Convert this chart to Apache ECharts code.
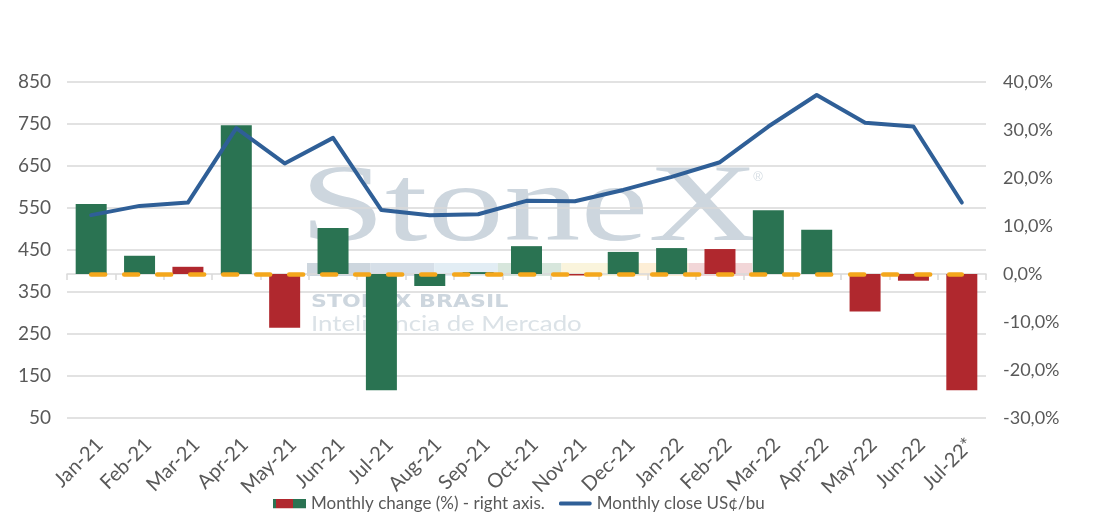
<!DOCTYPE html>
<html><head><meta charset="utf-8">
<script src="https://cdn.jsdelivr.net/npm/echarts@6/dist/echarts.min.js"></script>
<style>html,body{margin:0;padding:0;background:#fff}#c{width:1104px;height:523px}</style>
</head><body><div id="c"></div><script>
const categories = ['Jan-21','Feb-21','Mar-21','Apr-21','May-21','Jun-21','Jul-21','Aug-21','Sep-21','Oct-21','Nov-21','Dec-21','Jan-22','Feb-22','Mar-22','Apr-22','May-22','Jun-22','Jul-22*'];
const closeValues = [533,555,563,740,656,717,545,533,535,567,566,593,624,659,744,819,753,744,563];
const changeValues = [14.6,3.8,1.5,31.0,-11.2,9.6,-24.2,-2.5,0.4,5.8,-0.3,4.6,5.4,5.2,13.3,9.2,-7.8,-1.4,-24.2];
const changeColorKeys = ['g','g','r','g','r','g','g','g','g','g','r','g','g','r','g','g','r','r','r'];
const leftTicks = {min:50, max:850, interval:100};
const rightTicks = {min:-30, max:40, interval:10};

const GREEN = '#2A7352', RED = '#B0282E', BLUE = '#2F5F97', ORANGE = '#F4A71C';
const FONT = 'Lato';
const TXT = '#595959';

const barIcon = 'image://data:image/svg+xml;utf8,' + encodeURIComponent(
  '<svg xmlns="http://www.w3.org/2000/svg" width="33" height="10"><rect x="0" y="0" width="3" height="10" fill="'+GREEN+'"/><rect x="3" y="0" width="17" height="10" fill="'+RED+'"/><rect x="20" y="0" width="13" height="10" fill="'+GREEN+'"/></svg>');
const lineIcon = 'image://data:image/svg+xml;utf8,' + encodeURIComponent(
  '<svg xmlns="http://www.w3.org/2000/svg" width="36" height="10"><line x1="2" y1="5" x2="34" y2="5" stroke="'+BLUE+'" stroke-width="4" stroke-linecap="round"/></svg>');

const stripColors = ['#cdd6de','#d6dfe8','#e2edf4','#d7e6dc','#faf4dc','#fdeed6','#f2d6d8'];
const graphics = [];
stripColors.forEach((c,i)=>{
  graphics.push({type:'rect', z:-10, shape:{x:307+i*63.6, y:263, width:63.6, height:13}, style:{fill:c}});
});
graphics.push({type:'text', z:-10, x:300, y:266, scaleX:1.39, style:{text:'StoneX', font:'110px "Liberation Serif"', fill:'#cdd6de', verticalAlign:'bottom', align:'left'}});
graphics.push({type:'text', z:-10, x:758, y:177, style:{text:'®', font:'13px "Liberation Sans"', fill:'#d5dde3', verticalAlign:'middle', align:'center'}});
graphics.push({type:'text', z:-10, x:311, y:303, scaleX:1.3, style:{text:'STONEX BRASIL', font:'bold 17px "DejaVu Sans"', fill:'#cdd6de', verticalAlign:'middle', align:'left'}});
graphics.push({type:'text', z:-10, x:311, y:324, scaleX:1.23, style:{text:'Inteligência de Mercado', font:'21px "Lato"', fill:'#dbe2e7', verticalAlign:'middle', align:'left'}});

const chart = echarts.init(document.getElementById('c'));
chart.setOption({
  animation:false,
  backgroundColor:'#fff',
  graphic: graphics,
  grid:{left:67, right:118, top:82, bottom:105},
  legend:{
    bottom:6, left:268, itemWidth:33, itemHeight:10, itemGap:14, symbolKeepAspect:false,
    textStyle:{fontSize:17, color:TXT, fontFamily:FONT},
    data:[{name:'Monthly change (%) - right axis.', icon:barIcon},{name:'Monthly close US¢/bu', icon:lineIcon}]
  },
  xAxis:{
    type:'category', data:categories, boundaryGap:true,
    axisLine:{show:true, lineStyle:{color:'#d9d9d9', width:1.5}},
    axisTick:{show:true, alignWithLabel:false, length:6, lineStyle:{color:'#d9d9d9', width:1.5}},
    axisLabel:{rotate:45, margin:15, fontSize:20, color:TXT, fontFamily:FONT, interval:0,
      verticalAlign:'top', padding:[2,0,0,0]}
  },
  yAxis:[
    {type:'value', min:leftTicks.min, max:leftTicks.max, interval:leftTicks.interval,
     axisLine:{show:false}, axisTick:{show:false},
     splitLine:{show:true, lineStyle:{color:'#d9d9d9', width:1.5}},
     axisLabel:{fontSize:19, color:TXT, fontFamily:FONT, margin:16}},
    {type:'value', min:rightTicks.min, max:rightTicks.max, interval:rightTicks.interval,
     axisLine:{show:false}, axisTick:{show:false}, splitLine:{show:false},
     axisLabel:{fontSize:18, color:TXT, fontFamily:FONT, margin:17,
       formatter:v=>v.toFixed(1).replace('.',',')+'%'}}
  ],
  series:[
    {name:'Monthly change (%) - right axis.', type:'bar', yAxisIndex:1, barWidth:31,
     data:changeValues.map((v,i)=>({value:v, itemStyle:{color: changeColorKeys[i]==='g'?GREEN:RED}})),
     itemStyle:{color:GREEN},
     markLine:{silent:true, symbol:['none','none'], label:{show:false}, z:5,
       lineStyle:{color:ORANGE, width:4.5, type:[14,19], cap:'round'},
       data:[[{coord:[0,0]},{coord:[categories.length-1,0]}]]}
    },
    {name:'Monthly close US¢/bu', type:'line', yAxisIndex:0, data:closeValues, symbol:'none', z:6,
     lineStyle:{color:BLUE, width:4, cap:'round', join:'round'}, itemStyle:{color:BLUE}}
  ]
});
</script></body></html>
